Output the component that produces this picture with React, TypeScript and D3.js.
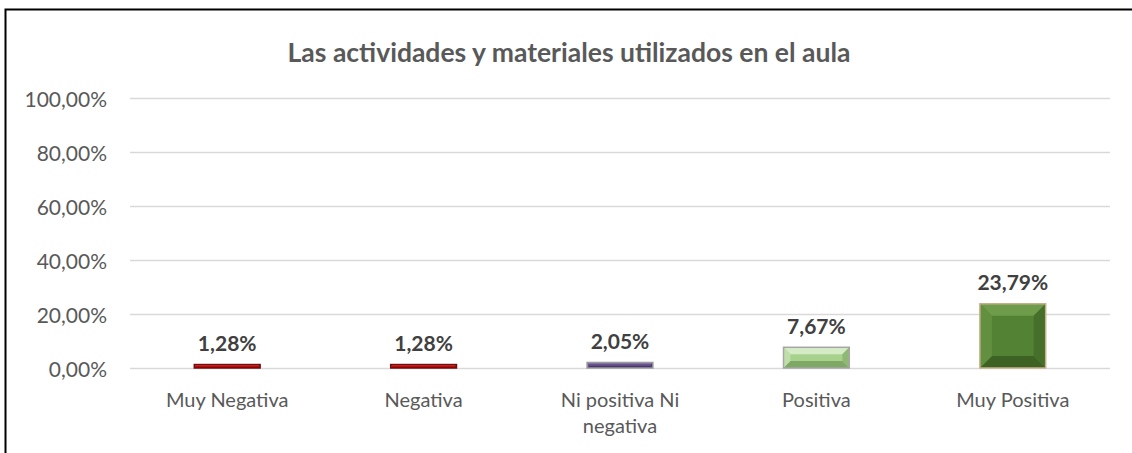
import * as d3 from "d3";
import React, { useEffect, useRef } from "react";

const title = "Las actividades y materiales utilizados en el aula";
const categories = [
  "Muy Negativa",
  "Negativa",
  "Ni positiva Ni negativa",
  "Positiva",
  "Muy Positiva",
];
const values = [0.0128, 0.0128, 0.0205, 0.0767, 0.2379];
const valueLabels = ["1,28%", "1,28%", "2,05%", "7,67%", "23,79%"];
const yTicks = [0, 0.2, 0.4, 0.6, 0.8, 1];
const yTickLabels = ["0,00%", "20,00%", "40,00%", "60,00%", "80,00%", "100,00%"];

// base / light / dark / outline for each bar
const barColors = [
  { base: "#e00000", light: "#f03a3a", dark: "#9a0000", edge: "#6b1010" },
  { base: "#e00000", light: "#f03a3a", dark: "#9a0000", edge: "#6b1010" },
  { base: "#604a8a", light: "#7d68a6", dark: "#3f2f60", edge: "#9c9c9c" },
  { base: "#a9d18e", light: "#d5ebc6", dark: "#7ea864", edge: "#a6a6a6" },
  { base: "#548235", light: "#6f9c4a", dark: "#3d6224", edge: "#c8b088" },
];

const W = 1132;
const H = 453;
const FONT = "Lato, 'Open Sans', sans-serif";

export default function App() {
  const svgRef = useRef<SVGSVGElement>(null);

  useEffect(() => {
    const svg = d3.select(svgRef.current);
    svg.selectAll("*").remove();

    const x = d3.scaleBand().domain(categories).range([129, 1111]).padding(0);
    const y = d3.scaleLinear().domain([0, 1]).range([368, 98]);
    const barW = x.bandwidth() * 0.335;

    svg.append("rect").attr("width", W).attr("height", H).attr("fill", "#fff");

    // frame (only top and left visible)
    svg
      .append("path")
      .attr("d", `M5.5,${H} V9.5 H${W}`)
      .attr("fill", "none")
      .attr("stroke", "#000")
      .attr("stroke-width", 2);

    svg
      .append("text")
      .attr("x", 569)
      .attr("y", 52)
      .attr("text-anchor", "middle")
      .attr("dominant-baseline", "central")
      .attr("font-family", FONT)
      .attr("font-weight", "bold")
      .attr("font-size", 26.5)
      .attr("fill", "#595959")
      .text(title);

    // gridlines + tick labels
    const tick = svg.append("g");
    tick
      .selectAll("line")
      .data(yTicks)
      .join("line")
      .attr("x1", 130)
      .attr("x2", 1110)
      .attr("y1", (d) => Math.round(y(d)) + 0.5)
      .attr("y2", (d) => Math.round(y(d)) + 0.5)
      .attr("stroke", "#d9d9d9")
      .attr("stroke-width", 1.5);
    tick
      .selectAll("text")
      .data(yTicks)
      .join("text")
      .attr("x", 107)
      .attr("y", (d) => y(d))
      .attr("text-anchor", "end")
      .attr("dominant-baseline", "central")
      .attr("font-family", FONT)
      .attr("font-size", 21)
      .attr("fill", "#595959")
      .text((d, i) => yTickLabels[i]);

    // bars with bevel
    categories.forEach((c, i) => {
      const cx = (x(c) || 0) + x.bandwidth() / 2;
      const x0 = cx - barW / 2;
      const y0 = y(values[i]);
      const h = y(0) - y0;
      const col = barColors[i];
      const b = Math.min(12, h / 3, barW / 4);
      const g = svg.append("g");
      g.append("rect")
        .attr("x", x0)
        .attr("y", y0)
        .attr("width", barW)
        .attr("height", h)
        .attr("fill", col.base);
      const x1 = x0 + barW;
      const y1 = y0 + h;
      const poly = (pts: number[][], fill: string) =>
        g.append("polygon").attr("points", pts.map((p) => p.join(",")).join(" ")).attr("fill", fill);
      poly([[x0, y0], [x1, y0], [x1 - b, y0 + b], [x0 + b, y0 + b]], col.light);
      poly([[x0, y1], [x1, y1], [x1 - b, y1 - b], [x0 + b, y1 - b]], col.dark);
      poly([[x0, y0], [x0 + b, y0 + b], [x0 + b, y1 - b], [x0, y1]], d3.interpolateRgb(col.base, col.light)(0.5));
      poly([[x1, y0], [x1 - b, y0 + b], [x1 - b, y1 - b], [x1, y1]], d3.interpolateRgb(col.base, col.dark)(0.6));
      g.append("rect")
        .attr("x", x0)
        .attr("y", y0)
        .attr("width", barW)
        .attr("height", h)
        .attr("fill", "none")
        .attr("stroke", col.edge)
        .attr("stroke-width", 1.5);

      svg
        .append("text")
        .attr("x", cx)
        .attr("y", y0 - 22)
        .attr("text-anchor", "middle")
        .attr("dominant-baseline", "central")
        .attr("font-family", FONT)
        .attr("font-weight", "bold")
        .attr("font-size", 21)
        .attr("fill", "#404040")
        .text(valueLabels[i]);
    });

    // category labels, wrapped
    categories.forEach((c) => {
      const cx = (x(c) || 0) + x.bandwidth() / 2;
      const t = svg
        .append("text")
        .attr("x", cx)
        .attr("y", 407)
        .attr("text-anchor", "middle")
        .attr("font-family", FONT)
        .attr("font-size", 20)
        .attr("fill", "#595959");
      const words = c.split(" ");
      let line: string[] = [];
      let ts = t.append("tspan").attr("x", cx).attr("dy", 0);
      words.forEach((w) => {
        line.push(w);
        ts.text(line.join(" "));
        const node = ts.node() as SVGTSpanElement;
        if (node.getComputedTextLength() > x.bandwidth() * 0.8 && line.length > 1) {
          line.pop();
          ts.text(line.join(" "));
          line = [w];
          ts = t.append("tspan").attr("x", cx).attr("dy", 26).text(w);
        }
      });
    });
  }, []);

  return (
    <svg
      ref={svgRef}
      width={W}
      height={H}
      style={{ position: "absolute", left: 0, top: 0 }}
    />
  );
}
